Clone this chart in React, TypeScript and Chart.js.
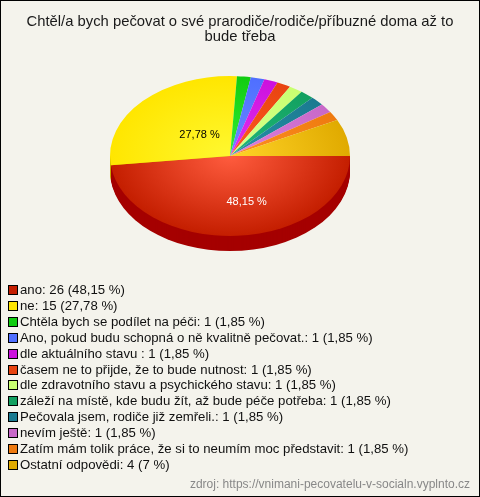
import React, { useEffect, useRef } from "react";
import { Chart, registerables } from "chart.js";

Chart.register(...registerables);

const TITLE_LINES = [
  "Chtěl/a bych pečovat o své prarodiče/rodiče/příbuzné doma až to",
  "bude třeba",
];

const CATEGORIES = [
  "ano",
  "ne",
  "Chtěla bych se podílet na péči",
  "Ano, pokud budu schopná o ně kvalitně pečovat.",
  "dle aktuálního stavu ",
  "časem ne to přijde, že to bude nutnost",
  "dle zdravotního stavu a psychického stavu",
  "záleží na místě, kde budu žít, až bude péče potřeba",
  "Pečovala jsem, rodiče již zemřeli.",
  "nevím ještě",
  "Zatím mám tolik práce, že si to neumím moc představit",
  "Ostatní odpovědi",
];

const COUNTS = [26, 15, 1, 1, 1, 1, 1, 1, 1, 1, 1, 4];

const PERCENT_LABELS = [
  "48,15 %",
  "27,78 %",
  "1,85 %",
  "1,85 %",
  "1,85 %",
  "1,85 %",
  "1,85 %",
  "1,85 %",
  "1,85 %",
  "1,85 %",
  "1,85 %",
  "7 %",
];

const SOURCE_TEXT = "zdroj: https://vnimani-pecovatelu-v-socialn.vyplnto.cz";

// styles
const BASE_COLORS = [
  "#c41e00", "#ffe600", "#11cc11", "#4f6fff", "#cc11dd", "#e84410",
  "#c8ff70", "#12a060", "#1a7a90", "#c868c8", "#ee7a10", "#e0aa00",
];
const LIGHT_COLORS = [
  "#ff5c3e", "#fff830", "#33ee33", "#6a88ff", "#e030f0", "#ff5a20",
  "#d8ff90", "#20b878", "#2890a8", "#dd80dd", "#ff9020", "#ffd428",
];
const SIDE_COLORS = [
  "#a50000", "#c8b400", "#0a8a0a", "#3048c0", "#8a0a96", "#a83008",
  "#90b850", "#0a6a40", "#105060", "#904890", "#b05808", "#a88000",
];
const LABEL_COLORS = ["#ffffff", "#000000"];

const BG = "#f4f3ec";
const FONT = "'Liberation Sans', Arial, sans-serif";
const TILT = 80 / 120;
const DEPTH = 15;
const CENTER_X = 230;
const CENTER_Y = 156;
const RADIUS = 120;

function applyTilt(ctx: CanvasRenderingContext2D, a: any, dy: number) {
  ctx.translate(CENTER_X - a.x, CENTER_Y + dy);
  ctx.scale(1, TILT);
  ctx.translate(0, -a.y);
}

const pie3d = {
  id: "pie3d",
  beforeDraw(chart: any) {
    const ctx = chart.ctx;
    ctx.save();
    ctx.fillStyle = BG;
    ctx.fillRect(0, 0, chart.width, chart.height);
    ctx.restore();
  },
  beforeDatasetsDraw(chart: any) {
    const ctx = chart.ctx;
    const arcs = chart.getDatasetMeta(0).data as any[];
    if (!arcs.length) return;
    const order = arcs
      .map((_, i) => i)
      .sort((a, b) => {
        const ma = (arcs[a].startAngle + arcs[a].endAngle) / 2;
        const mb = (arcs[b].startAngle + arcs[b].endAngle) / 2;
        return Math.sin(ma) - Math.sin(mb);
      });
    ctx.save();
    ctx.beginPath();
    ctx.rect(0, CENTER_Y, chart.width, chart.height);
    ctx.clip();
    for (let d = DEPTH; d >= 1; d--) {
      ctx.save();
      applyTilt(ctx, arcs[0], d);
      for (const i of order) {
        const a = arcs[i];
        ctx.beginPath();
        ctx.moveTo(a.x, a.y);
        ctx.arc(a.x, a.y, a.outerRadius, a.startAngle, a.endAngle);
        ctx.closePath();
        ctx.fillStyle = SIDE_COLORS[i];
        ctx.fill();
      }
      ctx.restore();
    }
    ctx.restore();
    ctx.save();
    applyTilt(ctx, arcs[0], 0);
  },
  afterDatasetsDraw(chart: any) {
    const ctx = chart.ctx;
    ctx.restore();
    const arcs = chart.getDatasetMeta(0).data as any[];
    const total = COUNTS.reduce((s, v) => s + v, 0);
    ctx.save();
    ctx.font = `11px ${FONT}`;
    ctx.textAlign = "left";
    ctx.textBaseline = "top";
    arcs.forEach((a, i) => {
      if (COUNTS[i] / total < 0.1) return;
      const p = a.tooltipPosition(false);
      const x = CENTER_X + (p.x - a.x);
      const y = CENTER_Y + (p.y - a.y) * TILT;
      ctx.fillStyle = LABEL_COLORS[i] || "#000";
      ctx.fillText(PERCENT_LABELS[i], x - 7, y + 1);
    });
    ctx.restore();
  },
  afterDraw(chart: any) {
    const ctx = chart.ctx;
    ctx.save();
    // legend
    const x0 = 8;
    const y0 = 290;
    const dy = 15.9;
    ctx.font = `13.2px ${FONT}`;
    ctx.textBaseline = "middle";
    ctx.textAlign = "left";
    CATEGORIES.forEach((cat, i) => {
      const y = Math.round(y0 + i * dy);
      ctx.fillStyle = BASE_COLORS[i];
      ctx.fillRect(x0 + 0.5, y - 4.5, 9, 9);
      ctx.strokeStyle = "#000";
      ctx.lineWidth = 1;
      ctx.strokeRect(x0 + 0.5, y - 4.5, 9, 9);
      ctx.fillStyle = "#111";
      ctx.fillText(`${cat}: ${COUNTS[i]} (${PERCENT_LABELS[i]})`, x0 + 12, y + 0.5);
    });
    // source
    ctx.font = `12px ${FONT}`;
    ctx.fillStyle = "#888";
    ctx.textAlign = "right";
    ctx.fillText(SOURCE_TEXT, 470, 485);
    // frame
    ctx.strokeStyle = "#000";
    ctx.lineWidth = 1;
    ctx.strokeRect(0.5, 0.5, chart.width - 1, chart.height - 1);
    ctx.restore();
  },
};

export default function App() {
  const ref = useRef<HTMLCanvasElement | null>(null);
  useEffect(() => {
    if (!ref.current) return;
    const chart = new Chart(ref.current, {
      type: "pie",
      data: {
        labels: CATEGORIES,
        datasets: [
          {
            data: COUNTS,
            backgroundColor: (c: any) => {
              const i = c.dataIndex ?? 0;
              const ch = c.chart;
              const a = ch.chartArea;
              if (!a) return BASE_COLORS[i];
              const cx = (a.left + a.right) / 2;
              const cy = (a.top + a.bottom) / 2;
              const g = ch.ctx.createRadialGradient(cx, cy, 0, cx, cy, RADIUS);
              g.addColorStop(0, LIGHT_COLORS[i]);
              g.addColorStop(1, BASE_COLORS[i]);
              return g;
            },
            borderWidth: 0,
            hoverOffset: 0,
            radius: RADIUS,
          } as any,
        ],
      },
      options: {
        responsive: false,
        animation: false,
        events: [],
        rotation: 90,
        layout: { padding: 0 },
        plugins: {
          legend: { display: false },
          tooltip: { enabled: false },
          title: {
            display: true,
            text: TITLE_LINES,
            color: "#1a1a1a",
            font: { family: FONT, size: 14.8, weight: "normal", lineHeight: 1.02 },
            padding: { top: 14, bottom: 10 },
          },
        },
      } as any,
      plugins: [pie3d],
    });
    return () => chart.destroy();
  }, []);
  return (
    <div style={{ position: "absolute", left: 0, top: 0, width: 480, height: 497 }}>
      <canvas ref={ref} width={480} height={497} style={{ display: "block" }} />
    </div>
  );
}
